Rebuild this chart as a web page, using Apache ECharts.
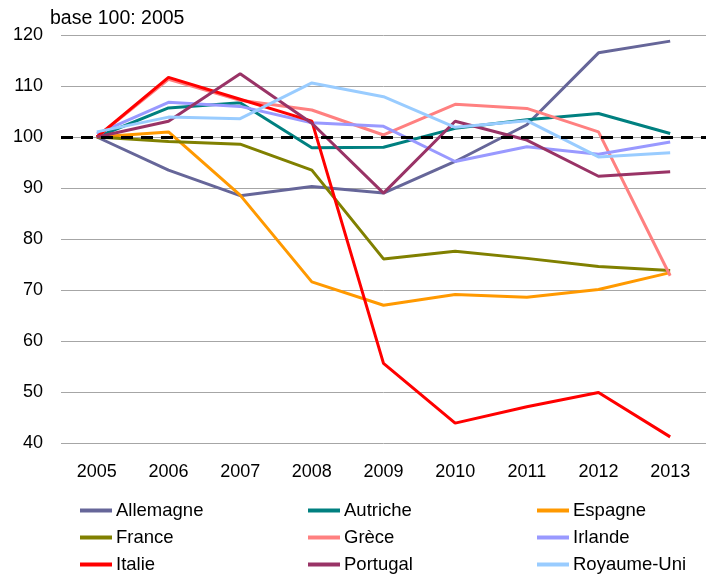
<!DOCTYPE html>
<html lang="fr">
<head>
  <meta charset="UTF-8">
  <title>Base 100: 2005</title>
  <script src="https://cdn.jsdelivr.net/npm/echarts@6/dist/echarts.min.js"></script>
  <style>
    body { margin: 0; background: #fff; }
    #main { width: 706px; height: 578px; }
  </style>
</head>
<body>
  <div id="main"></div>
  <script>
  const years = ['2005', '2006', '2007', '2008', '2009', '2010', '2011', '2012', '2013'];

  const allemagne = [100, 93.5, 88.5, 90.3, 89, 95.2, 102.4, 116.5, 118.8];
  const autriche = [100, 105.7, 106.7, 97.9, 98, 101.7, 103.4, 104.6, 100.7];
  const espagne = [100, 101, 88.6, 71.6, 67, 69.1, 68.6, 70.1, 73.4];
  const france = [100, 99.1, 98.6, 93.5, 76.1, 77.6, 76.2, 74.6, 73.8];
  const grece = [100, 111.3, 107.2, 105.3, 100.4, 106.4, 105.6, 101, 72.8];
  const irlande = [100.6, 106.8, 106, 102.8, 102.1, 95.2, 98.1, 96.6, 99];
  const italie = [100, 111.7, 107.4, 103.1, 55.6, 43.9, 47.1, 49.9, 41.2];
  const portugal = [100, 103.1, 112.4, 102.7, 89, 103.1, 99.4, 92.3, 93.2];
  const royaumeUni = [101, 103.9, 103.6, 110.6, 107.9, 101.9, 103.2, 96.1, 96.9];

  const yTicks = [40, 50, 60, 70, 80, 90, 100, 110, 120];

  const chart = echarts.init(document.getElementById('main'));
  const font = 'Liberation Sans, Arial, sans-serif';

  function line(name, data, color) {
    return {
      name: name,
      type: 'line',
      data: data,
      symbol: 'none',
      lineStyle: { width: 3, color: color },
      itemStyle: { color: color }
    };
  }

  const series = [
    line('Allemagne', allemagne, '#666699'),
    line('Autriche', autriche, '#008080'),
    line('Espagne', espagne, '#FF9900'),
    line('France', france, '#808000'),
    line('Grèce', grece, '#FF8080'),
    line('Irlande', irlande, '#9999FF'),
    line('Italie', italie, '#FF0000'),
    line('Portugal', portugal, '#993366'),
    line('Royaume-Uni', royaumeUni, '#99CCFF')
  ];

  // dashed reference line at 100
  series[0].markLine = {
    silent: true,
    symbol: 'none',
    label: { show: false },
    lineStyle: { type: [12, 8], color: '#000', width: 3 },
    data: [{ yAxis: 100 }]
  };

  function legendCol(left, names) {
    return {
      orient: 'vertical',
      left: left,
      top: 501,
      height: 77,
      padding: 0,
      itemGap: 8,
      itemWidth: 32,
      itemHeight: 4,
      icon: 'rect',
      data: names,
      selectedMode: false,
      textStyle: { fontFamily: font, fontSize: 18.5, color: '#000', padding: [0, 0, 0, -1] }
    };
  }

  chart.setOption({
    animation: false,
    textStyle: { fontFamily: font },
    title: {
      text: 'base 100: 2005',
      left: 45,
      top: 4,
      textStyle: { fontFamily: font, fontSize: 19.5, fontWeight: 'normal', color: '#000' }
    },
    legend: [
      legendCol(80, ['Allemagne', 'France', 'Italie']),
      legendCol(308, ['Autriche', 'Grèce', 'Portugal']),
      legendCol(537, ['Espagne', 'Irlande', 'Royaume-Uni'])
    ],
    grid: { left: 61, right: -8, top: 35, bottom: 135, containLabel: false },
    xAxis: {
      type: 'category',
      data: years,
      boundaryGap: true,
      axisLine: { show: false },
      axisTick: { show: false },
      axisLabel: { fontFamily: font, fontSize: 18, color: '#000', margin: 20 }
    },
    yAxis: {
      type: 'value',
      min: yTicks[0],
      max: yTicks[yTicks.length - 1],
      interval: 10,
      axisLine: { show: false },
      axisTick: { show: false },
      axisLabel: { fontFamily: font, fontSize: 18, color: '#000', margin: 18 },
      splitLine: { lineStyle: { color: '#A6A6A6', width: 1 } }
    },
    series: series
  });
  </script>
</body>
</html>
